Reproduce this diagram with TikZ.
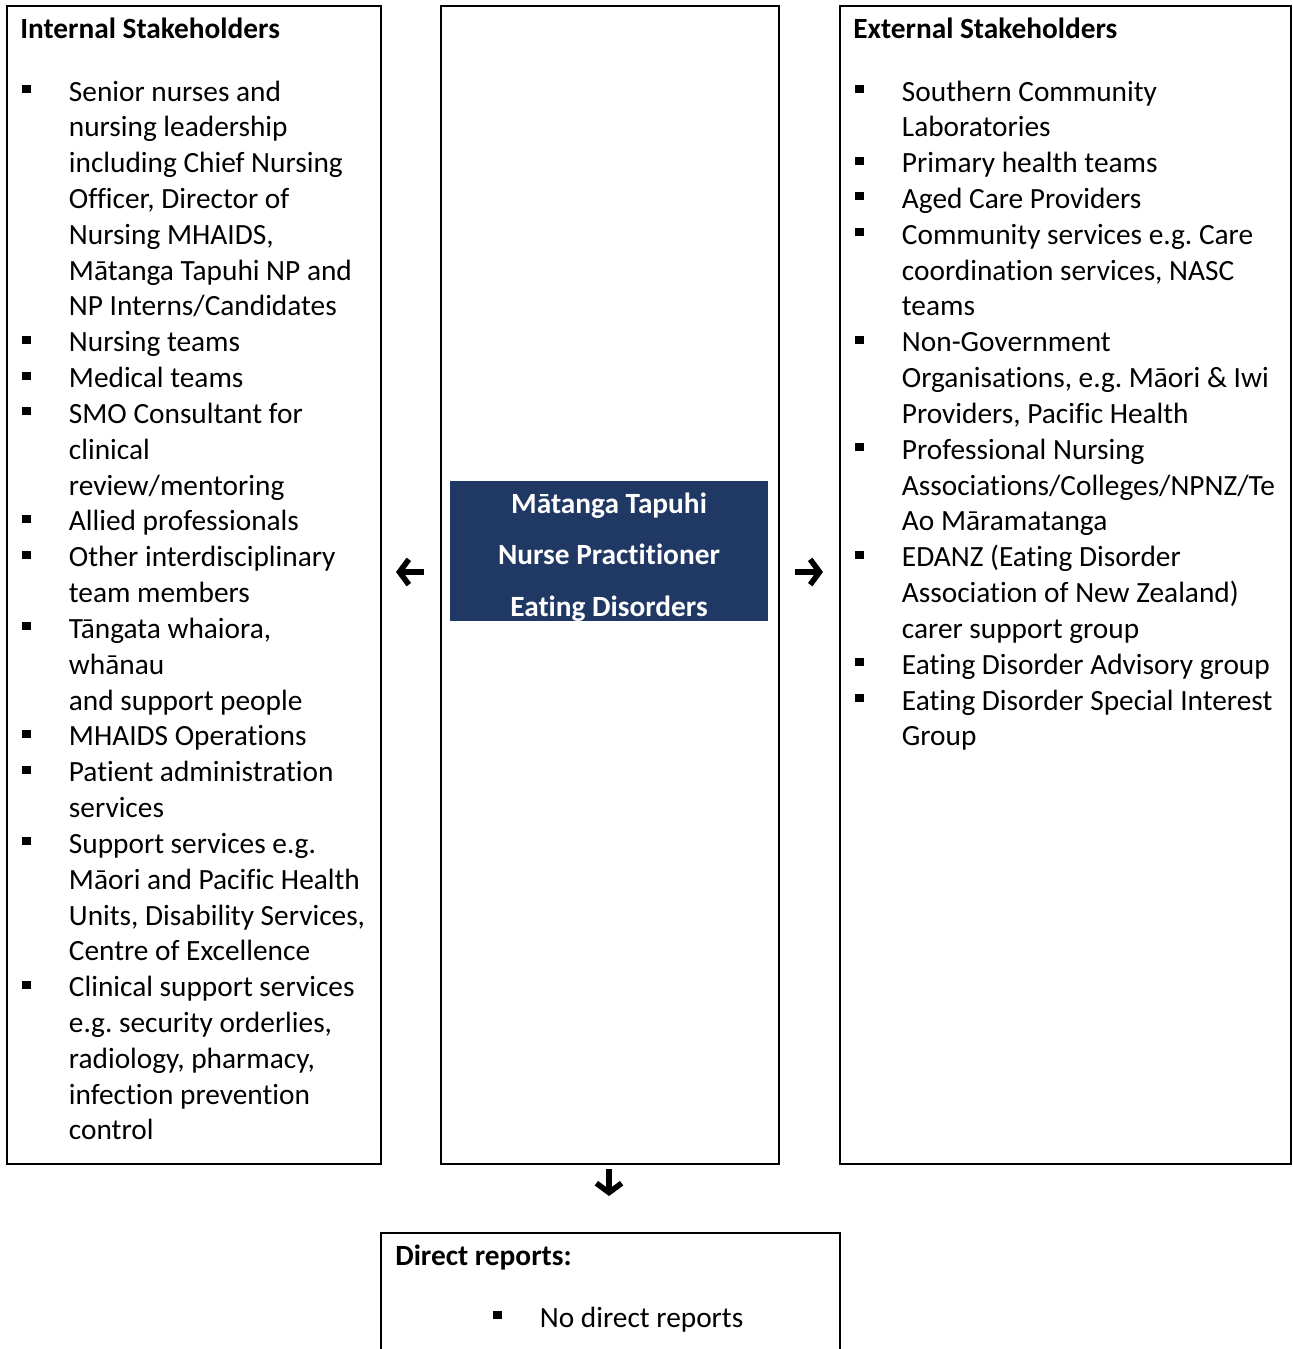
\documentclass[tikz,border=0pt]{standalone}
\usepackage{fontspec}
\setmainfont[Ligatures=NoCommon]{Carlito}
\usetikzlibrary{arrows.meta}
\frenchspacing
\definecolor{npnavy}{HTML}{203864}
\tikzset{
  frame/.style={draw, line width=1.5pt, inner sep=0pt, anchor=north west},
  heading/.style={inner sep=0pt, anchor=base west,
    font=\fontsize{22}{26.87}\selectfont\bfseries},
  bullets/.style={inner sep=0pt, anchor=base west},
  pointer/.style={line width=4.2pt, -{Straight Barb[length=7pt,width=19pt]}}
}
\newcommand{\sqbul}{\makebox[35pt][l]{\rule[6pt]{6.5pt}{6pt}}}
\newcommand{\sitem}[1]{\par\hangindent=35pt\hangafter=1\noindent\sqbul{\def\\{\hfil\break}#1}}
\newcommand{\blist}[1]{\parbox[t]{330pt}{\fontsize{22}{26.87}\selectfont\raggedright#1}}

\begin{document}
\begin{tikzpicture}[x=0.75pt,y=-0.75pt]
\useasboundingbox (0,0) rectangle (1292,1349);

% three columns
\node[frame, minimum width=280.5pt, minimum height=868.5pt] (intl) at (6,5) {};
\node[frame, minimum width=253.5pt, minimum height=868.5pt] (mid) at (440,5) {};
\node[frame, minimum width=338.25pt, minimum height=868.5pt] (extl) at (839,5) {};
\node[frame, minimum width=344.25pt, minimum height=130pt] (drep) at (380,1232) {};

% the role
\node[fill=npnavy, minimum width=238.5pt, minimum height=105pt] (np) at (609,551) {};
\node[text=white, align=center, font=\fontsize{22}{38.6}\selectfont\bfseries]
  (nptext) at (609,557) {Mātanga Tapuhi\\Nurse Practitioner\\Eating Disorders};

% internal
\node[heading] (ihead) at (20,38) {Internal Stakeholders};
\node[bullets] (ilist) at (22,101) {\blist{%
  \sitem{Senior nurses and\\nursing leadership\\including Chief Nursing\\Officer, Director of\\Nursing MHAIDS,\\Mātanga Tapuhi NP and\\NP Interns/Candidates}
  \sitem{Nursing teams}
  \sitem{Medical teams}
  \sitem{SMO Consultant for\\clinical\\review/mentoring}
  \sitem{Allied professionals}
  \sitem{Other interdisciplinary\\team members}
  \sitem{Tāngata whaiora,\\whānau\\and support people}
  \sitem{MHAIDS Operations}
  \sitem{Patient administration\\services}
  \sitem{Support services e.g.\\Māori and Pacific Health\\Units, Disability Services,\\Centre of Excellence}
  \sitem{Clinical support services\\e.g. security orderlies,\\radiology, pharmacy,\\infection prevention\\control}}};

% external
\node[heading] (ehead) at (853,38) {External Stakeholders};
\node[bullets] (elist) at (855,101) {\blist{%
  \sitem{Southern Community\\Laboratories}
  \sitem{Primary health teams}
  \sitem{Aged Care Providers}
  \sitem{Community services e.g. Care\\coordination services, NASC\\teams}
  \sitem{Non-Government\\Organisations, e.g. Māori \& Iwi\\Providers, Pacific Health}
  \sitem{Professional Nursing\\Associations/Colleges/NPNZ/Te\\Ao Māramatanga}
  \sitem{EDANZ (Eating Disorder\\Association of New Zealand)\\carer support group}
  \sitem{Eating Disorder Advisory group}
  \sitem{Eating Disorder Special Interest\\Group}}};

% direct reports
\node[heading] (dhead) at (395,1265) {Direct reports:};
\node[bullets] (dlist) at (493,1327) {\blist{\sitem{No direct reports}}};

% arrows
\coordinate (lfrom) at (424,572);
\coordinate (lto) at (396,572);
\coordinate (rfrom) at (795,572);
\coordinate (rto) at (823,572);
\coordinate (dfrom) at (609,1169);
\coordinate (dto) at (609,1196);
\draw[pointer] (lfrom) -- (lto);
\draw[pointer] (rfrom) -- (rto);
\draw[pointer] (dfrom) -- (dto);
\end{tikzpicture}
\end{document}
